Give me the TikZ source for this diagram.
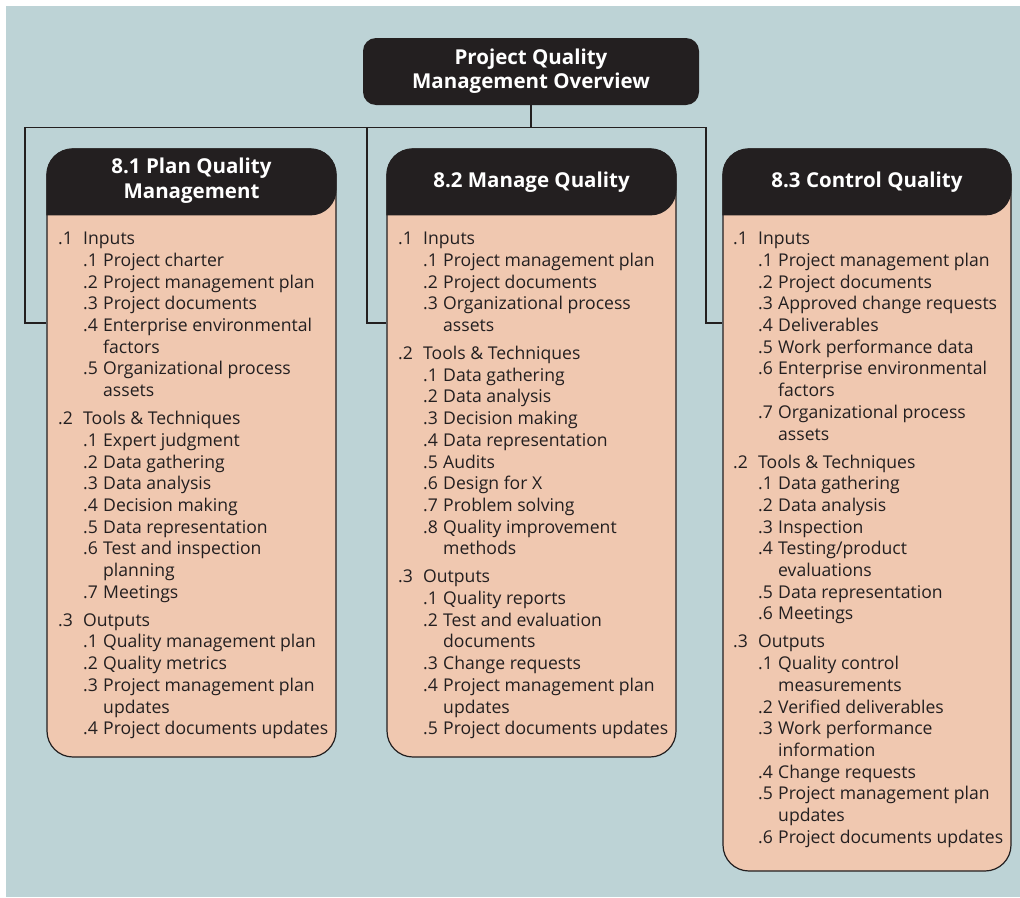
\documentclass[tikz,border=0pt]{standalone}
\usepackage{fontspec}
\setmainfont{Open Sans}
\usetikzlibrary{positioning}

\definecolor{bgblue}{HTML}{BDD3D6}
\definecolor{salmon}{HTML}{F0C8B0}
\definecolor{ink}{HTML}{231F20}

% body lines of a process box
\newcommand\grp[2]{\makebox[25pt][l]{#1}#2}
\newcommand\itm[2]{\hspace*{25pt}\makebox[20pt][l]{#1}#2}
\newcommand\cnt[1]{\hspace*{45pt}#1}

\tikzset{
  link/.style={draw=ink, line width=1.2pt},
  headbox/.style={fill=ink, text=white, rounded corners=13pt, align=center,
    font=\bfseries\fontsize{20.5}{24}\selectfont, inner sep=0pt},
  procbox/.style={draw=ink, fill=salmon, line width=1.2pt, rounded corners=26pt, inner sep=0pt},
  bodytext/.style={anchor=north west, align=left, inner sep=0pt, text=ink,
    font=\fontsize{17.6}{21.7}\selectfont},
  titletext/.style={text=white, align=center, font=\bfseries\fontsize{20.5}{25}\selectfont}
}

\begin{document}
\begin{tikzpicture}[x=1pt,y=-1pt]
    % page and background
    \fill[white] (0,0) rectangle (1020,897);
    \fill[bgblue] (6,6) rectangle (1020,897);
    \useasboundingbox (0,0) rectangle (1020,897);

    % Overview box
    \node[headbox, minimum width=336pt, minimum height=67pt] (top) at (531,71.5)
        {Project Quality\\Management Overview};

    % Process boxes
    \node[procbox, minimum width=289pt, minimum height=608pt] (b1) at (191.5,453) {};
    \node[procbox, minimum width=289pt, minimum height=608pt] (b2) at (531.5,453) {};
    \node[procbox, minimum width=288pt, minimum height=722pt] (b3) at (867,510) {};

    % dark headers
    \foreach \b in {b1,b2,b3}{
      \fill[ink] ([yshift=-67pt]\b.north west) [rounded corners=26pt] |- (\b.north)
          -| ([yshift=-67pt]\b.north east) [sharp corners] -- cycle;
    }

    % connectors
    \coordinate (e1) at (25,323);
    \coordinate (e2) at (367,323);
    \coordinate (e3) at (706,323);
    \draw[link] (top.south) -- ++(0,22) coordinate (bus);
    \draw[link] (b1.west |- e1) -- (e1) |- (bus) -| (e3) -- (b3.west |- e3);
    \draw[link] (b2.west |- e2) -- (e2) |- (bus);

    % titles
    \node[titletext] (t1) at (191.5,181) {8.1 Plan Quality\\Management};
    \node[titletext] (t2) at (531.5,182.5) {8.2 Manage Quality};
    \node[titletext] (t3) at (867,182.5) {8.3 Control Quality};

    % body texts
    \node[bodytext] (x1) at (58,232) {
      \grp{.1}{Inputs}\\
      \itm{.1}{Project charter}\\
      \itm{.2}{Project management plan}\\
      \itm{.3}{Project documents}\\
      \itm{.4}{Enterprise environmental}\\
      \cnt{factors}\\
      \itm{.5}{Organizational process}\\
      \cnt{assets}\\[6.3pt]
      \grp{.2}{Tools \& Techniques}\\
      \itm{.1}{Expert judgment}\\
      \itm{.2}{Data gathering}\\
      \itm{.3}{Data analysis}\\
      \itm{.4}{Decision making}\\
      \itm{.5}{Data representation}\\
      \itm{.6}{Test and inspection}\\
      \cnt{planning}\\
      \itm{.7}{Meetings}\\[6.3pt]
      \grp{.3}{Outputs}\\
      \itm{.1}{Quality management plan}\\
      \itm{.2}{Quality metrics}\\
      \itm{.3}{Project management plan}\\
      \cnt{updates}\\
      \itm{.4}{Project documents updates}};

    \node[bodytext] (x2) at (398,232) {
      \grp{.1}{Inputs}\\
      \itm{.1}{Project management plan}\\
      \itm{.2}{Project documents}\\
      \itm{.3}{Organizational process}\\
      \cnt{assets}\\[6.3pt]
      \grp{.2}{Tools \& Techniques}\\
      \itm{.1}{Data gathering}\\
      \itm{.2}{Data analysis}\\
      \itm{.3}{Decision making}\\
      \itm{.4}{Data representation}\\
      \itm{.5}{Audits}\\
      \itm{.6}{Design for X}\\
      \itm{.7}{Problem solving}\\
      \itm{.8}{Quality improvement}\\
      \cnt{methods}\\[6.3pt]
      \grp{.3}{Outputs}\\
      \itm{.1}{Quality reports}\\
      \itm{.2}{Test and evaluation}\\
      \cnt{documents}\\
      \itm{.3}{Change requests}\\
      \itm{.4}{Project management plan}\\
      \cnt{updates}\\
      \itm{.5}{Project documents updates}};

    \node[bodytext] (x3) at (733,232) {
      \grp{.1}{Inputs}\\
      \itm{.1}{Project management plan}\\
      \itm{.2}{Project documents}\\
      \itm{.3}{Approved change requests}\\
      \itm{.4}{Deliverables}\\
      \itm{.5}{Work performance data}\\
      \itm{.6}{Enterprise environmental}\\
      \cnt{factors}\\
      \itm{.7}{Organizational process}\\
      \cnt{assets}\\[6.3pt]
      \grp{.2}{Tools \& Techniques}\\
      \itm{.1}{Data gathering}\\
      \itm{.2}{Data analysis}\\
      \itm{.3}{Inspection}\\
      \itm{.4}{Testing/product}\\
      \cnt{evaluations}\\
      \itm{.5}{Data representation}\\
      \itm{.6}{Meetings}\\[6.3pt]
      \grp{.3}{Outputs}\\
      \itm{.1}{Quality control}\\
      \cnt{measurements}\\
      \itm{.2}{Verified deliverables}\\
      \itm{.3}{Work performance}\\
      \cnt{information}\\
      \itm{.4}{Change requests}\\
      \itm{.5}{Project management plan}\\
      \cnt{updates}\\
      \itm{.6}{Project documents updates}};
\end{tikzpicture}
\end{document}
